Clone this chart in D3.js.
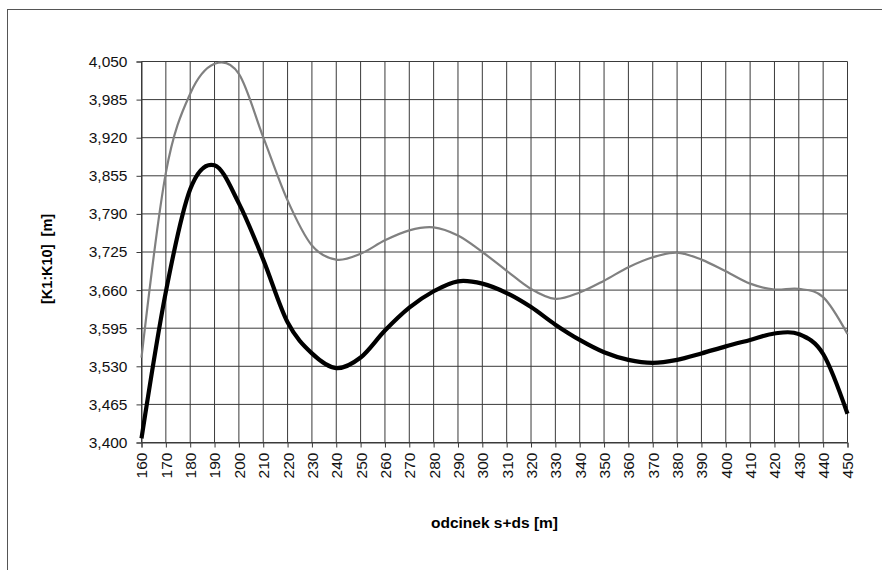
<!DOCTYPE html>
<html>
<head>
<meta charset="utf-8">
<script src="https://cdn.jsdelivr.net/npm/d3@7"></script>
<style>
  body { margin: 0; background: #fff; }
  svg { display: block; }
</style>
</head>
<body>
<div class="chart-wrapper"></div>
<script>
// odcinek s+ds [m]
const distances = [160, 170, 180, 190, 200, 210, 220, 230, 240, 250, 260, 270, 280, 290, 300,
  310, 320, 330, 340, 350, 360, 370, 380, 390, 400, 410, 420, 430, 440, 450]

// black thick series
const seriesK1 = [3.407, 3.657, 3.832, 3.873, 3.808, 3.712, 3.605, 3.552, 3.527, 3.545, 3.591, 3.630,
  3.658, 3.675, 3.671, 3.655, 3.631, 3.601, 3.575, 3.554, 3.541, 3.536, 3.541, 3.552, 3.564,
  3.575, 3.586, 3.585, 3.551, 3.449]

// grey thin series
const seriesK10 = [3.545, 3.860, 3.995, 4.046, 4.029, 3.921, 3.813, 3.736, 3.712, 3.722, 3.745, 3.762,
  3.767, 3.753, 3.725, 3.693, 3.662, 3.645, 3.656, 3.676, 3.699, 3.716, 3.724, 3.712, 3.692,
  3.671, 3.661, 3.662, 3.648, 3.585]

const yTicks = [3.400, 3.465, 3.530, 3.595, 3.660, 3.725, 3.790, 3.855, 3.920, 3.985, 4.050]

const width = 882
const height = 570
const margin = { top: 61.5, right: 34.5, bottom: 127.5, left: 141.5 }

const x = d3.scaleLinear()
  .domain([160, 450])
  .range([margin.left, width - margin.right])

const y = d3.scaleLinear()
  .domain([3.4, 4.05])
  .range([height - margin.bottom, margin.top])

const fmt = v => d3.format(".3f")(v).replace(".", ",")

const svg = d3.select(".chart-wrapper").append("svg")
  .attr("width", width)
  .attr("height", height)
  .attr("font-family", "'Liberation Sans', Arial, sans-serif")

// outer frame (runs off the right / bottom edge like the original)
svg.append("rect")
  .attr("x", 7.5)
  .attr("y", 9.5)
  .attr("width", width + 10)
  .attr("height", height + 10)
  .attr("fill", "none")
  .attr("stroke", "#555")

// grid
const grid = svg.append("g").attr("stroke", "#3a3a3a").attr("stroke-width", 1)

grid.selectAll("line.v").data(distances).join("line")
  .attr("class", "v")
  .attr("x1", d => x(d)).attr("x2", d => x(d))
  .attr("y1", y(4.05)).attr("y2", y(3.4))

grid.selectAll("line.h").data(yTicks).join("line")
  .attr("class", "h")
  .attr("x1", x(160)).attr("x2", x(450))
  .attr("y1", d => y(d)).attr("y2", d => y(d))

// axes
const yAxis = d3.axisLeft(y)
  .tickValues(yTicks)
  .tickFormat(fmt)
  .tickSize(5)
  .tickPadding(9)

const xAxis = d3.axisBottom(x)
  .tickValues(distances)
  .tickFormat(d3.format("d"))
  .tickSize(5)

const gy = svg.append("g")
  .attr("transform", `translate(${margin.left},0)`)
  .call(yAxis)
gy.select(".domain").attr("stroke", "#3a3a3a")
gy.selectAll(".tick line").attr("stroke", "#3a3a3a")
gy.selectAll("text").attr("font-size", 15.5).attr("fill", "#111")
  .attr("font-family", "'Liberation Sans', Arial, sans-serif")

const gx = svg.append("g")
  .attr("transform", `translate(0,${height - margin.bottom})`)
  .call(xAxis)
gx.select(".domain").attr("stroke", "#3a3a3a")
gx.selectAll(".tick line").attr("stroke", "#3a3a3a")
gx.selectAll("text")
  .attr("font-size", 15.5)
  .attr("fill", "#111")
  .attr("font-family", "'Liberation Sans', Arial, sans-serif")
  .attr("transform", "rotate(-90)")
  .attr("text-anchor", "end")
  .attr("x", -10)
  .attr("y", 0)
  .attr("dy", "0.35em")

// lines, smoothed like the spreadsheet original
const line = (vals) => d3.line()
  .x((d, i) => x(distances[i]))
  .y(d => y(d))
  .curve(d3.curveCardinal.tension(0))(vals)

svg.append("path")
  .attr("d", line(seriesK10))
  .attr("fill", "none")
  .attr("stroke", "#808080")
  .attr("stroke-width", 2.2)

svg.append("path")
  .attr("d", line(seriesK1))
  .attr("fill", "none")
  .attr("stroke", "#000")
  .attr("stroke-width", 4.2)

// axis titles
svg.append("text")
  .attr("x", (x(160) + x(450)) / 2)
  .attr("y", 528)
  .attr("text-anchor", "middle")
  .attr("font-size", 15.5)
  .attr("font-weight", "bold")
  .text("odcinek s+ds [m]")

svg.append("text")
  .attr("transform", "translate(52,259) rotate(-90)")
  .attr("text-anchor", "middle")
  .attr("font-size", 14.5)
  .attr("font-weight", "bold")
  .style("white-space", "pre")
  .text("[K1:K10]  [m]")
</script>
</body>
</html>
